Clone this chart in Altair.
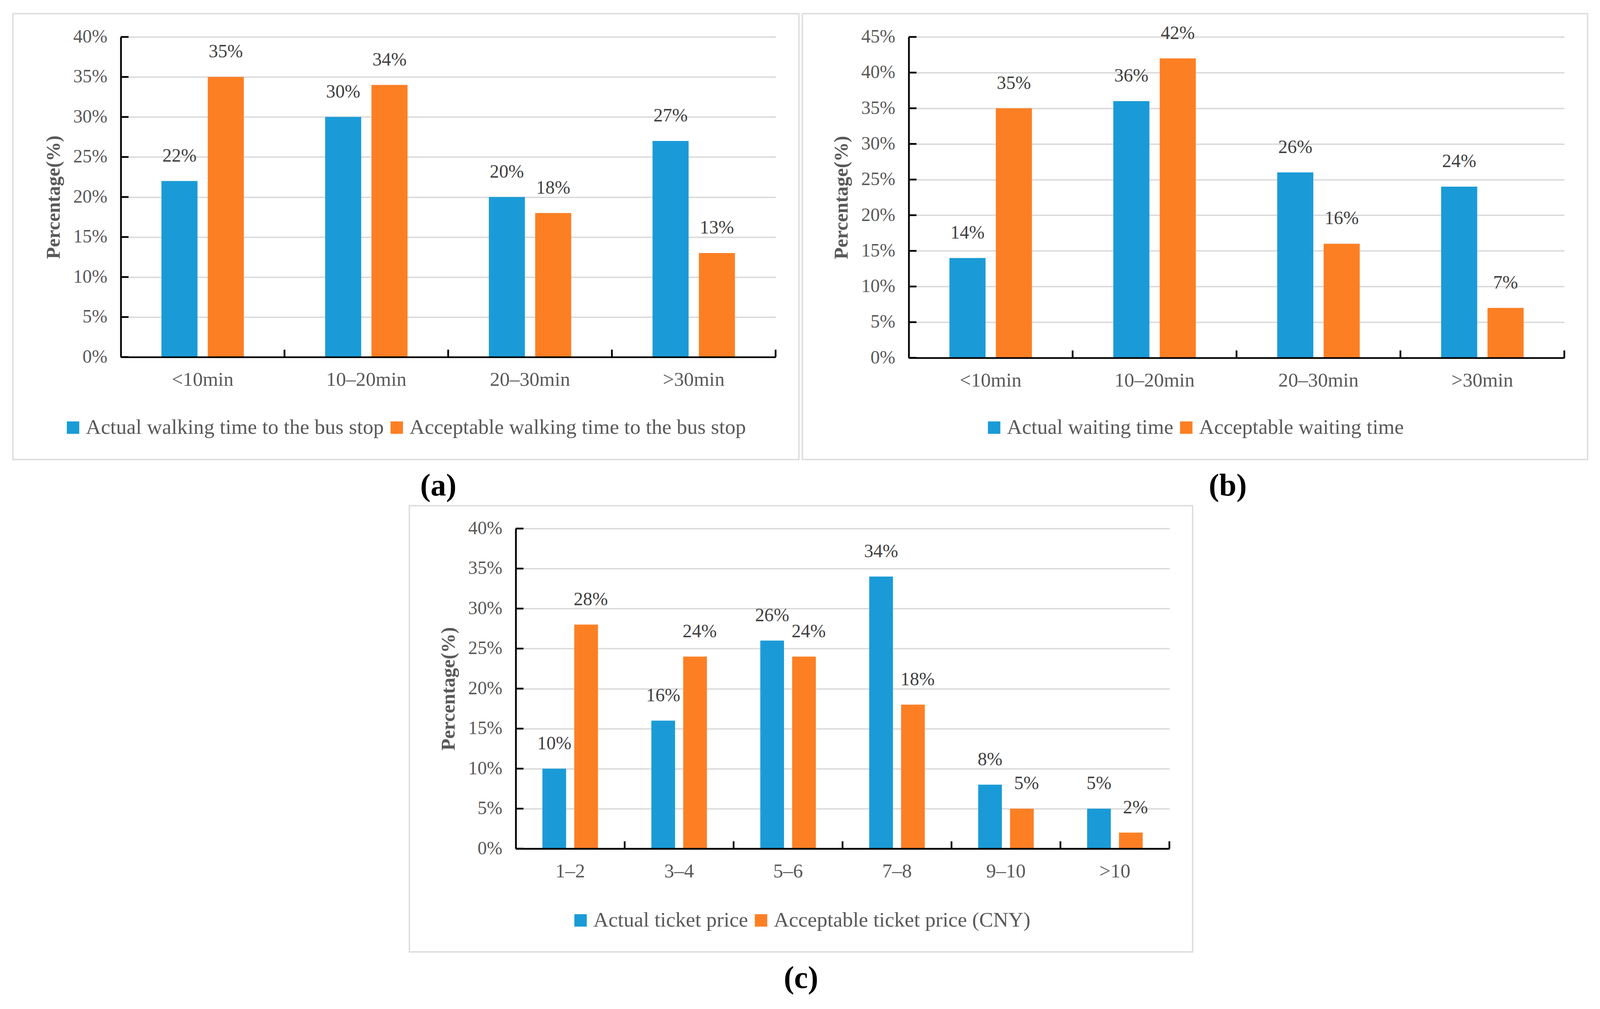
import altair as alt
import pandas as pd

FONT = "Liberation Serif"
BLUE = "#1a9bd7"
ORANGE = "#fd7f24"
GRID = "#d9d9d9"
FRAME = "#dcdcdc"
LABEL = "#595959"
VALUE = "#404040"

# ---------------- data ----------------
cats_a = ["<10min", "10\u201320min", "20\u201330min", ">30min"]
actual_a = [22, 30, 20, 27]
accept_a = [35, 34, 18, 13]
series_a = ["Actual walking time to the bus stop", "Acceptable walking time to the bus stop"]

cats_b = ["<10min", "10\u201320min", "20\u201330min", ">30min"]
actual_b = [14, 36, 26, 24]
accept_b = [35, 42, 16, 7]
series_b = ["Actual waiting time", "Acceptable waiting time"]

cats_c = ["1\u20132", "3\u20134", "5\u20136", "7\u20138", "9\u201310", ">10"]
actual_c = [10, 16, 26, 34, 8, 5]
accept_c = [28, 24, 24, 18, 5, 2]
series_c = ["Actual ticket price", "Acceptable ticket price (CNY)"]

ticks_a = [0, 5, 10, 15, 20, 25, 30, 35, 40]
ticks_b = [0, 5, 10, 15, 20, 25, 30, 35, 40, 45]
ticks_c = [0, 5, 10, 15, 20, 25, 30, 35, 40]

tags = ["(a)", "(b)", "(c)"]


def panel(cats, actual, accept, series, ticks, ymax, W, H, frame,
          legend_x, legend_y, tag, tag_x, tag_y, pad_inner, pad_outer, accept_dx):
    df = pd.DataFrame({
        "cat": cats + cats,
        "series": [series[0]] * len(cats) + [series[1]] * len(cats),
        "value": actual + accept,
    })
    df["label"] = [f"{v}%" for v in df["value"]]

    xaxis = alt.Axis(title=None, labelAngle=0, labelFont=FONT, labelFontSize=51,
                     labelColor=LABEL, labelPadding=34, labelLimit=0, ticks=False, tickSize=0,
                     domainColor="black", domainWidth=4.5, grid=False, zindex=1)
    x = alt.X("cat:N", sort=cats, scale=alt.Scale(paddingInner=0, paddingOuter=0), axis=xaxis)
    x_end = alt.X("cat:N", sort=cats, scale=alt.Scale(paddingInner=0, paddingOuter=0),
                  axis=xaxis, bandPosition=1)
    xo = alt.XOffset("series:N", sort=series,
                     scale=alt.Scale(domain=series, paddingInner=pad_inner, paddingOuter=pad_outer))
    yaxis = alt.Axis(values=ticks, labelExpr="datum.value + '%'", labelFont=FONT,
                     labelFontSize=48, labelColor=LABEL, labelPadding=35,
                     ticks=False, tickSize=0, domainColor="black", domainWidth=4.5,
                     grid=True, gridColor=GRID, gridWidth=3.5,
                     title="Percentage(%)", titleFont=FONT, titleFontSize=50,
                     titleFontWeight="bold", titleColor=LABEL, titleAngle=270,
                     titleX=-173, titleY=H / 2, titleAlign="center", titleBaseline="middle")
    y = alt.Y("value:Q", scale=alt.Scale(domain=[0, ymax], nice=False), axis=yaxis)

    one = pd.DataFrame({"tag": [tag]})

    frame_rect = alt.Chart(one).mark_rect(filled=False, stroke=FRAME, strokeWidth=3.5).encode(
        x=alt.value(frame[0]), x2=alt.value(frame[1]),
        y=alt.value(frame[2]), y2=alt.value(frame[3]))

    base = alt.Chart(df)
    bars = base.mark_bar().encode(
        x=x, xOffset=xo, y=y,
        color=alt.Color("series:N", sort=series,
                        scale=alt.Scale(domain=series, range=[BLUE, ORANGE]),
                        legend=alt.Legend(orient="none", legendX=legend_x, legendY=legend_y,
                                          direction="horizontal", columns=2, title=None,
                                          symbolType="square", symbolSize=1024,
                                          symbolStrokeWidth=0, labelFont=FONT,
                                          labelFontSize=54, labelColor=LABEL,
                                          labelOffset=6, columnPadding=6, padding=0,
                                          labelLimit=0)))
    lab1 = base.transform_filter(alt.datum.series == series[0]).mark_text(
        font=FONT, fontSize=48, color=VALUE, baseline="alphabetic", dy=-50).encode(
        x=x, xOffset=xo, y=y, text="label:N")
    lab2 = base.transform_filter(alt.datum.series == series[1]).mark_text(
        font=FONT, fontSize=48, color=VALUE, baseline="alphabetic", dy=-50, dx=accept_dx).encode(
        x=x, xOffset=xo, y=y, text="label:N")

    ytick = alt.Chart(pd.DataFrame({"value": ticks})).mark_rule(
        color="black", strokeWidth=4.5).encode(y=y, x=alt.value(0), x2=alt.value(20))
    xtick = alt.Chart(pd.DataFrame({"cat": cats})).mark_rule(
        color="black", strokeWidth=4.5).encode(x=x_end, y=alt.value(H - 19), y2=alt.value(H))

    tag_text = alt.Chart(one).mark_text(font=FONT, fontSize=80, fontWeight="bold",
                                        color="black", align="center", baseline="middle").encode(
        x=alt.value(tag_x), y=alt.value(tag_y), text="tag:N")

    return alt.layer(frame_rect, bars, ytick, xtick, lab1, lab2, tag_text).properties(
        width=W, height=H)


pa = panel(cats_a, actual_a, accept_a, series_a, ticks_a, 40, 1687, 825,
           (-278, 1747, -60, 1089), -150, 980, tags[0], 818, 1158, 0.222, 0.877, 0)
pb = panel(cats_b, actual_b, accept_b, series_b, ticks_b, 45, 1689, 827,
           (-274, 1749, -60, 1089), 193, 980, tags[1], 822, 1158, 0.222, 0.877, 0)
pc = panel(cats_c, actual_c, accept_c, series_c, ticks_c, 40, 1684, 825,
           (-274, 1744, -59, 1091), 140, 983, tags[2], 735, 1160, 0.256, 0.838, 12)

top = alt.hconcat(pa, pb, spacing=343, bounds="flush").resolve_scale(
    x="independent", y="independent", xOffset="independent", color="independent")

chart = alt.vconcat(top, pc, spacing=8, center=True).resolve_scale(
    x="independent", y="independent", xOffset="independent", color="independent"
).properties(
    padding={"left": 23, "top": 17, "right": 22, "bottom": 13}
).configure(font=FONT).configure_view(strokeWidth=0)

chart.save("out.html", embed_options={"renderer": "svg", "actions": False})
